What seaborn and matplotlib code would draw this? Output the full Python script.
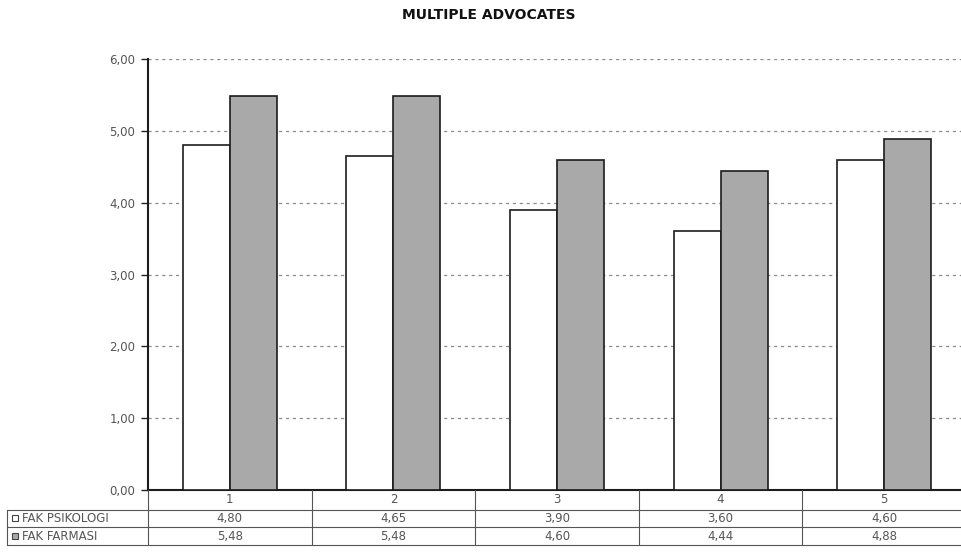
import matplotlib
matplotlib.use("Agg")
import matplotlib.pyplot as plt
import matplotlib.transforms as mtransforms
from matplotlib.ticker import FixedLocator, FuncFormatter
import seaborn as sns
import pandas as pd

# ---- data -------------------------------------------------------------
categories = ["1", "2", "3", "4", "5"]
series_names = ["FAK PSIKOLOGI", "FAK FARMASI"]
psikologi = [4.80, 4.65, 3.90, 3.60, 4.60]
farmasi = [5.48, 5.48, 4.60, 4.44, 4.88]
y_ticks = [0, 1, 2, 3, 4, 5, 6]
title = "MULTIPLE ADVOCATES"


def comma_fmt(v):
    return f"{v:.2f}".replace(".", ",")


df = pd.DataFrame({
    "kategori": categories * 2,
    "fakultas": [series_names[0]] * len(categories) + [series_names[1]] * len(categories),
    "nilai": psikologi + farmasi,
})

# ---- style ------------------------------------------------------------
sns.set_style("white")
plt.rcParams["font.family"] = ["DejaVu Sans"]

W, H = 962, 554
fig = plt.figure(figsize=(W / 100, H / 100), dpi=100)
ax = fig.add_axes([148 / W, (H - 490) / H, (966 - 148) / W, (490 - 59) / H])

colors = {series_names[0]: "#ffffff", series_names[1]: "#a9a9a9"}
sns.barplot(
    data=df, x="kategori", y="nilai", hue="fakultas",
    order=categories, hue_order=series_names, palette=colors,
    width=0.575, gap=0, errorbar=None, legend=False,
    edgecolor="#1c1c1c", linewidth=1.2, saturation=1, ax=ax, zorder=3,
)

ax.set_ylim(y_ticks[0], y_ticks[-1])
ax.set_xlim(-0.5, len(categories) - 0.5)
ax.yaxis.set_major_locator(FixedLocator(y_ticks))
ax.yaxis.set_major_formatter(FuncFormatter(lambda v, _: comma_fmt(v)))
ax.set_axisbelow(True)
ax.yaxis.grid(True, linestyle=(0, (2.5, 3)), color="#8a8a8a", linewidth=0.9)
ax.xaxis.grid(False)
ax.set_xlabel("")
ax.set_ylabel("")
ax.tick_params(axis="x", length=0, labelbottom=False)
ax.tick_params(axis="y", length=5, width=1, color="#222222",
               labelsize=8.5, labelcolor="#555555", pad=4, left=True)

for side in ("top", "right"):
    ax.spines[side].set_visible(False)
for side in ("left", "bottom"):
    ax.spines[side].set_color("#1c1c1c")
    ax.spines[side].set_linewidth(1.5)

fig.text(489 / W, 1 - 15 / H, title, ha="center", va="center",
         fontsize=10, fontweight="bold", color="#111111")

# ---- data table under the axis ---------------------------------------
row_edges = [0.0, -0.046, -0.086, -0.128]   # axes-fraction boundaries
label_left = -0.172                          # left edge of row-label column
line_kw = dict(color="#555555", linewidth=0.8, clip_on=False, zorder=5)
text_kw = dict(fontsize=8.5, color="#555555", va="center", clip_on=False)

blend = mtransforms.blended_transform_factory(ax.transData, ax.transAxes)

# horizontal rules
for y in row_edges[1:]:
    ax.plot([label_left, 1.0], [y, y], transform=ax.transAxes, **line_kw)
# column separators at category boundaries
for i in range(len(categories) + 1):
    ax.plot([i - 0.5, i - 0.5], [row_edges[0], row_edges[-1]],
            transform=blend, **line_kw)
# left edge of the label column
ax.plot([label_left, label_left], [row_edges[1], row_edges[-1]],
        transform=ax.transAxes, **line_kw)

# header row with category names
mid = [(row_edges[k] + row_edges[k + 1]) / 2 for k in range(3)]
for i, cat in enumerate(categories):
    ax.text(i, mid[0], cat, ha="center", transform=blend, **text_kw)

# value rows with legend keys
for r, (name, vals) in enumerate(zip(series_names, [psikologi, farmasi]), start=1):
    ax.plot([label_left + 0.0095], [mid[r]], marker="s", markersize=5,
            markerfacecolor=colors[name], markeredgecolor="#444444",
            markeredgewidth=0.8, transform=ax.transAxes, clip_on=False,
            linestyle="none", zorder=6)
    ax.text(label_left + 0.0175, mid[r], name, ha="left",
            transform=ax.transAxes, **text_kw)
    for i, v in enumerate(vals):
        ax.text(i, mid[r], comma_fmt(v), ha="center", transform=blend, **text_kw)

fig.savefig("out.png", dpi=100)
